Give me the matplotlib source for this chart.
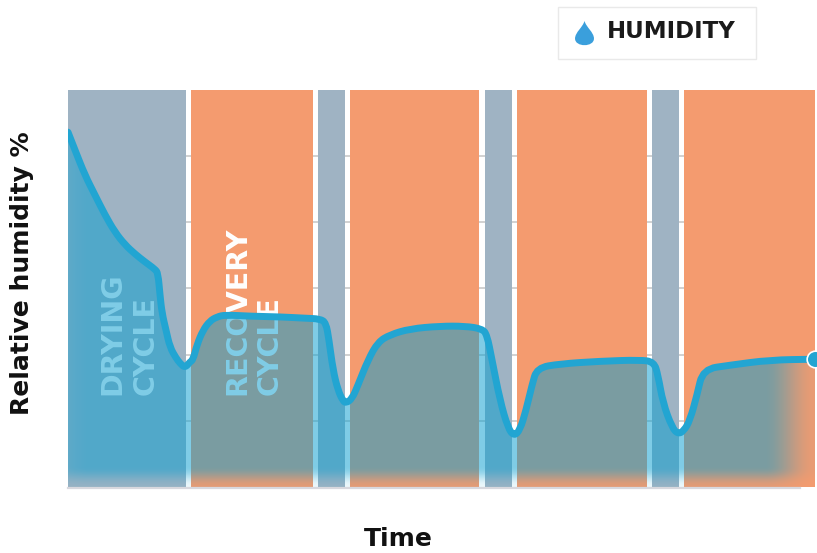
import matplotlib.pyplot as plt
import numpy as np
from matplotlib.patches import PathPatch, Rectangle
from matplotlib.path import Path

plt.rcParams['font.family'] = ['DejaVu Sans']

# Humidity curve
time = [0, 7, 17, 27, 37, 47, 57, 67, 77, 87, 90, 92, 94, 98, 102, 108, 112, 117, 122, 125, 129,
        135, 142, 149, 157, 182, 212, 237, 252, 258, 261, 265, 270, 275, 278, 284, 290, 300, 310,
        322, 342, 372, 397, 414, 419, 424, 432, 440, 446, 452, 458, 464, 469, 492, 532, 572, 586,
        590, 595, 604, 610, 616, 622, 629, 635, 662, 702, 747]
humidity = [53.6, 50.9, 47.1, 44.1, 41.1, 38.5, 36.6, 35.2, 34.0, 32.9, 32.3, 29.0, 26.3, 23.7,
            21.1, 19.5, 18.7, 18.0, 18.9, 19.2, 21.5, 23.7, 25.1, 25.7, 26.0, 25.8, 25.7, 25.5,
            25.4, 24.8, 22.2, 17.7, 14.6, 13.0, 12.7, 13.3, 15.4, 19.2, 21.9, 23.0, 23.9, 24.3,
            24.3, 23.9, 23.0, 19.2, 13.1, 8.9, 7.7, 8.6, 11.6, 15.4, 18.0, 18.6, 19.0, 19.2, 18.9,
            16.9, 12.7, 9.0, 8.0, 8.5, 10.1, 13.9, 17.8, 18.4, 19.2, 19.3]

# Cycle bands (start, end) along the time axis
drying_bands = [(0, 118), (250, 277), (417, 444), (584, 611)]
recovery_bands = [(123, 245), (282, 411), (449, 579), (616, 747)]
grid_levels = [10, 20, 30, 40, 50]

W, H = 817, 553
fig = plt.figure(figsize=(W / 100, H / 100), dpi=100)
ax = fig.add_axes([68 / W, 1 - 487 / H, 747 / W, 397 / H])
ax.set_xlim(0, 747)
ax.set_ylim(0, 397 / 6.62)
ax.set_facecolor('white')
ax.set_xticks([])
ax.set_yticks([])
for s in ax.spines.values():
    s.set_visible(False)

# gridlines only show through in the gaps between bands
for g in grid_levels:
    ax.axhline(g, color='#c9c9c9', lw=1.2, zorder=1)

for a, b in drying_bands:
    ax.axvspan(a, b, color='#9fb3c3', lw=0, zorder=2)
for a, b in recovery_bands:
    ax.axvspan(a, b, color='#f49b6f', lw=0, zorder=2)

# white labels sit under the blue fill
label_kw = dict(rotation=90, ha='center', va='bottom', color='white', fontsize=20.5,
                fontweight='bold', zorder=3)
ax.text(44, 13.9, 'DRYING', **label_kw)
ax.text(78, 13.9, 'CYCLE', **label_kw)
ax.text(169, 13.9, 'RECOVERY', **label_kw)
ax.text(202, 13.9, 'CYCLE', **label_kw)

# smooth path through the read points (quadratic segments between midpoints)
pts = np.column_stack([time, humidity])
verts = [pts[0]]
codes = [Path.MOVETO]
for i in range(1, len(pts) - 1):
    verts += [pts[i], (pts[i] + pts[i + 1]) / 2]
    codes += [Path.CURVE3, Path.CURVE3]
verts.append(pts[-1])
codes.append(Path.LINETO)
curve = Path(verts, codes)
area_path = Path(verts + [(time[-1], 0), (time[0], 0), pts[0]],
                 codes + [Path.LINETO, Path.LINETO, Path.LINETO])

# area under the curve, soft at the left, bottom and right edges
xx = np.linspace(0, 747, 747)
yy = np.linspace(0, 397, 397)
left_fade = 0.8 + 0.2 * np.clip(xx / 18, 0, 1) ** 0.6
r = np.clip((747 - xx) / 50, 0, 1)
right_fade = 0.1 + 0.9 * r * r * (3 - 2 * r)
b = np.clip(yy / 20, 0, 1)
bottom_fade = 0.15 + 0.85 * b * b * (3 - 2 * b)
mask = np.outer(bottom_fade, left_fade * right_fade)
rgba = np.zeros((397, 747, 4))
rgba[..., 0] = 9 / 255
rgba[..., 1] = 158 / 255
rgba[..., 2] = 208 / 255
rgba[..., 3] = 0.52 * mask
im = ax.imshow(rgba, extent=[0, 747, 0, 397 / 6.62], origin='lower', aspect='auto',
               interpolation='bilinear', zorder=4)
im.set_clip_path(area_path, transform=ax.transData)

ax.add_patch(PathPatch(curve, fc='none', ec='#22a5d2', lw=5, capstyle='round', joinstyle='round',
                       zorder=5))
ax.plot(time[-1], humidity[-1], 'o', ms=12, color='#22a5d2', mec='white', mew=1.2,
        clip_on=False, zorder=6)

# axis line under the plot
fig.add_artist(plt.Line2D([68 / W, 800 / W], [1 - 488 / H, 1 - 488 / H], color='#d8d8de', lw=1.6))

fig.text(22 / W, 1 - 273 / H, 'Relative humidity %', rotation=90, ha='center', va='center',
         fontsize=18, fontweight='bold', color='#111111')
fig.text(398 / W, 1 - 539 / H, 'Time', ha='center', va='center', fontsize=18,
         fontweight='bold', color='#111111')

# legend box with drop icon
fig.add_artist(Rectangle((558 / W, 1 - 59 / H), 198 / W, 52 / H, transform=fig.transFigure,
                         fc='white', ec='#e9e9e9', lw=1))
drop = Path([(0, 1), (0.12, 0.5), (0.75, 0.1), (0.75, -0.4), (0.75, -1.1), (-0.75, -1.1),
             (-0.75, -0.4), (-0.75, 0.1), (-0.12, 0.5), (0, 1), (0, 1)],
            [Path.MOVETO, Path.CURVE4, Path.CURVE4, Path.CURVE4, Path.CURVE4, Path.CURVE4,
             Path.CURVE4, Path.CURVE4, Path.CURVE4, Path.CURVE4, Path.CLOSEPOLY])
fig.add_artist(plt.Line2D([583.5 / W], [1 - 33 / H], marker=drop, ms=20, color='#3a9fdc', mew=0))
fig.text(607 / W, 1 - 31 / H, 'HUMIDITY', ha='left', va='center', fontsize=16.5,
         fontweight='bold', color='#1a1a1a')

fig.savefig('out.png', dpi=100)
